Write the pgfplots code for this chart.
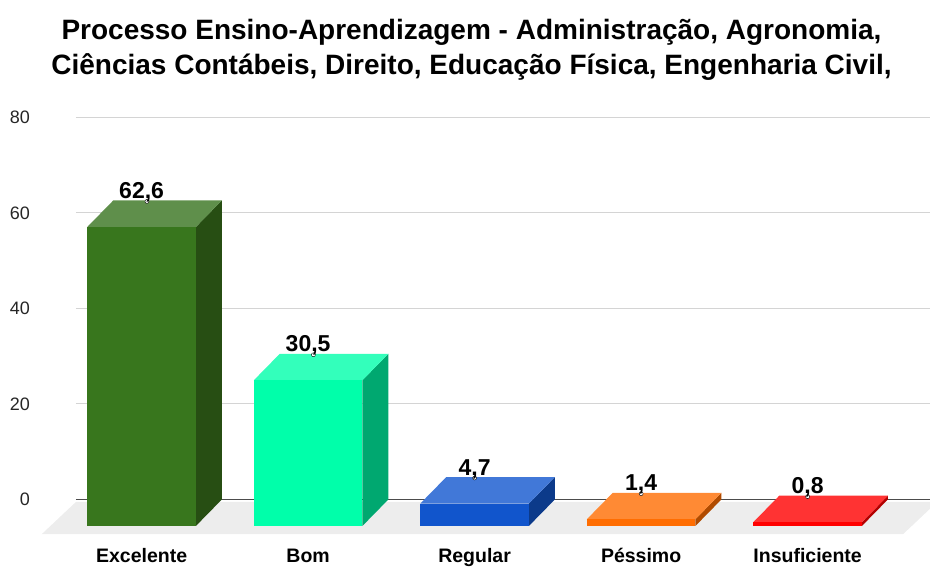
\documentclass[border=0pt]{standalone}
\usepackage{fontspec}
\setmainfont{Liberation Sans}
\usepackage{pgfplots}
\usepackage{pgfplotstable}
\pgfplotsset{compat=1.18}

\definecolor{excF}{HTML}{38761D}\definecolor{excT}{HTML}{5F8F4B}\definecolor{excS}{HTML}{274E13}
\definecolor{bomF}{HTML}{00FFAA}\definecolor{bomT}{HTML}{33FFBB}\definecolor{bomS}{HTML}{00A870}
\definecolor{regF}{HTML}{1155CC}\definecolor{regT}{HTML}{4178D8}\definecolor{regS}{HTML}{0C3A8A}
\definecolor{pesF}{HTML}{FF6D01}\definecolor{pesT}{HTML}{FF8A34}\definecolor{pesS}{HTML}{B04B00}
\definecolor{insF}{HTML}{FF0000}\definecolor{insT}{HTML}{FF3333}\definecolor{insS}{HTML}{B30000}
\definecolor{floorgray}{HTML}{EDEDED}
\definecolor{gridgray}{HTML}{D4D4D4}

\pgfplotstableread{
cx cy
0 0
1 0
1 1
0 1
}\unitsq

\newcommand\hw{0.326}
\newcommand\ddx{0.156}
\newcommand\ddy{5.55}

% #1 category index, #2 value, #3 colour prefix
\newcommand\threedbar[3]{%
 \addplot[draw=none, fill=#3S] table[x expr={#1+\hw+\ddx*\thisrow{cx}}, y expr={-\ddy+\ddy*\thisrow{cx}+#2*\thisrow{cy}}]{\unitsq};
 \addplot[draw=none, fill=#3T] table[x expr={#1-\hw+2*\hw*\thisrow{cx}+\ddx*\thisrow{cy}}, y expr={#2-\ddy+\ddy*\thisrow{cy}}]{\unitsq};
 \addplot[draw=none, fill=#3F] table[x expr={#1-\hw+2*\hw*\thisrow{cx}}, y expr={-\ddy+#2*\thisrow{cy}}]{\unitsq};
}

\begin{document}
\begin{tikzpicture}
\useasboundingbox (0,0) rectangle (930pt,566pt);
\clip (0,0) rectangle (930pt,566pt);
\begin{axis}[
  at={(76pt,31.8pt)}, anchor=south west,
  scale only axis, width=854pt, height=416.9pt,
  xmin=-0.394, xmax=4.735, ymin=-7.27, ymax=80,
  clip=false,
  axis line style={draw=none},
  major tick length=0pt,
  ytick={20,40,60,80},
  extra y ticks={0},
  extra y tick style={grid style={color=black!70, line width=1.2pt}},
  ymajorgrids,
  grid style={color=gridgray, line width=1pt},
  /pgf/number format/assume math mode=true,
  yticklabel style={anchor=east, inner sep=0pt, xshift=-46pt, font=\fontsize{18pt}{20pt}\selectfont, text=black!85},
  xtick={0,1,2,3,4},
  xticklabels={Excelente,Bom,Regular,Péssimo,Insuficiente},
  xticklabel style={anchor=base, inner sep=0pt, yshift=-28.6pt, font=\fontsize{19.5pt}{22pt}\selectfont\bfseries},
]
\addplot[draw=none, fill=floorgray] coordinates {(-0.6,-7.27) (4.573,-7.27) (4.735,-1.95) (4.735,-0.5) (-0.394,-0.5)};
\threedbar{0}{62.6}{exc}
\threedbar{1}{30.5}{bom}
\threedbar{2}{4.7}{reg}
\threedbar{3}{1.4}{pes}
\threedbar{4}{0.8}{ins}
% small white notch under each label's comma
\addplot[only marks, mark=*, mark size=2pt, mark options={fill=white, draw=none}]
  coordinates {(0.032,62.4) (1.032,30.3) (2,4.5) (3,1.2) (4,0.6)};
\addplot[only marks, mark=none,
  point meta=y,
  nodes near coords,
  nodes near coords style={anchor=base, inner sep=0pt, yshift=2pt, font=\fontsize{23pt}{26pt}\selectfont\bfseries,
    /pgf/number format/.cd, use comma, fixed, fixed zerofill, precision=1, assume math mode=true},
] coordinates {(0,62.6) (1,30.5) (2,4.7) (3,1.4) (4,0.8)};
\end{axis}
\node[anchor=base, inner sep=0pt, font=\fontsize{28pt}{32pt}\selectfont\bfseries] at (471.5pt,526.7pt) {Processo Ensino-Aprendizagem - Administração, Agronomia,};
\node[anchor=base, inner sep=0pt, font=\fontsize{28pt}{32pt}\selectfont\bfseries] at (471.5pt,491pt) {Ciências Contábeis, Direito, Educação Física, Engenharia Civil,};
\end{tikzpicture}
\end{document}
